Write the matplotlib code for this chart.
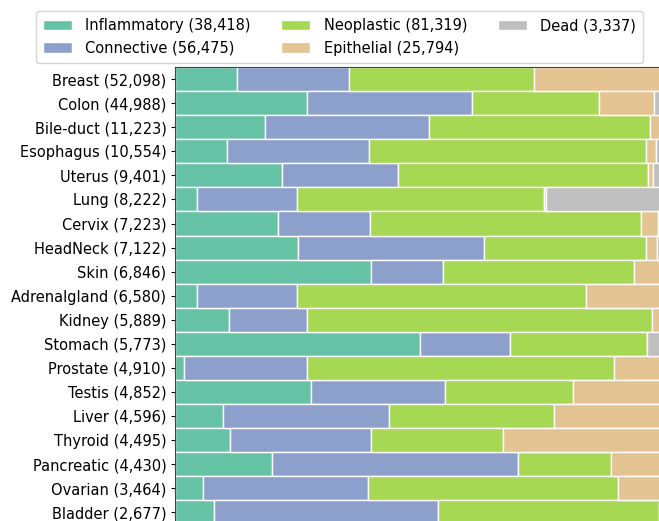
import numpy as np
import matplotlib.pyplot as plt

# tissue types, with nucleus counts
tissues = ['Breast', 'Colon', 'Bile-duct', 'Esophagus', 'Uterus', 'Lung', 'Cervix',
           'HeadNeck', 'Skin', 'Adrenalgland', 'Kidney', 'Stomach', 'Prostate',
           'Testis', 'Liver', 'Thyroid', 'Pancreatic', 'Ovarian', 'Bladder']
counts = [52098, 44988, 11223, 10554, 9401, 8222, 7223, 7122, 6846, 6580,
          5889, 5773, 4910, 4852, 4596, 4495, 4430, 3464, 2677]

# percentage of each cell type per tissue
inflammatory = [12.6, 27.0, 18.5, 10.5, 21.9, 4.5, 21.0, 25.2, 40.3, 4.4,
                11.0, 50.2, 1.8, 27.9, 9.7, 11.2, 19.9, 5.7, 8.0]
connective = [23.1, 34.1, 33.7, 29.3, 23.8, 20.4, 18.9, 38.2, 14.7, 20.5,
              16.1, 18.6, 25.2, 27.6, 34.3, 28.9, 50.4, 33.9, 46.0]
neoplastic = [38.0, 26.1, 45.4, 56.8, 51.4, 50.8, 55.8, 33.3, 39.4, 59.5,
              70.9, 28.1, 63.2, 26.3, 33.9, 27.3, 19.1, 51.3, 45.6]
epithelial = [26.2, 11.2, 2.2, 2.1, 1.0, 0.5, 3.5, 2.3, 5.7, 15.6,
              2.1, 0.0, 9.5, 18.2, 22.1, 32.6, 10.5, 9.1, 0.5]
dead = [0.0, 1.7, 0.3, 1.2, 1.9, 23.8, 0.8, 1.0, 0.0, 0.0,
        0.0, 3.1, 0.3, 0.0, 0.0, 0.0, 0.0, 0.0, 0.0]

class_names = ['Inflammatory', 'Connective', 'Neoplastic', 'Epithelial', 'Dead']
class_totals = [38418, 56475, 81319, 25794, 3337]
colors = ['#66c2a5', '#8da0cb', '#a6d854', '#e5c494', '#bfbfbf']

data = np.array([inflammatory, connective, neoplastic, epithelial, dead])
data = data / data.sum(axis=0)

fig = plt.figure(figsize=(6.59, 5.21), dpi=100)
ax = fig.add_axes([0.2663, -0.006, 0.738, 0.877])

y = np.arange(len(tissues))
left = np.zeros(len(tissues))
handles = []
for i, name in enumerate(class_names):
    b = ax.barh(y, data[i], left=left, height=1.0, color=colors[i],
                edgecolor='white', linewidth=1.0,
                label=f'{name} ({class_totals[i]:,})')
    handles.append(b)
    left += data[i]

ax.set_yticks(y)
ax.set_yticklabels([f'{t} ({c:,})' for t, c in zip(tissues, counts)], fontsize=10.5)
ax.set_ylim(len(tissues) - 0.5, -0.5)
ax.set_xlim(0, 1)
ax.set_xticks([])
ax.tick_params(axis='y', length=3, width=0.8)
for s in ['top', 'left']:
    ax.spines[s].set_color('#444444')
ax.spines['right'].set_visible(False)
ax.spines['bottom'].set_visible(False)

fig.legend(handles=handles, loc='upper center', bbox_to_anchor=(0.515, 0.979),
           ncol=3, fontsize=10.5, frameon=True, handlelength=2.0,
           handletextpad=0.9, columnspacing=2.1, borderpad=0.5,
           borderaxespad=0)

fig.savefig('out.png', dpi=100)
